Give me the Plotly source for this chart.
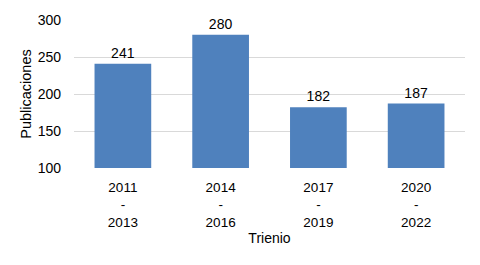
import plotly.graph_objects as go

categories = ["2011<br>-<br>2013", "2014<br>-<br>2016", "2017<br>-<br>2019", "2020<br>-<br>2022"]
values = [241, 280, 182, 187]

fig = go.Figure(go.Bar(
    x=categories, y=values,
    marker=dict(color="#4f81bd", line=dict(width=0)),
    text=[str(v) for v in values], textposition="outside",
    textfont=dict(size=14, color="#000000"),
    cliponaxis=False, width=0.58,
))
fig.update_layout(
    width=480, height=265,
    margin=dict(l=74, r=15, t=15, b=97),
    paper_bgcolor="white", plot_bgcolor="white",
    font=dict(family="Liberation Sans, Arial", size=14, color="#000000"),
    showlegend=False,
    xaxis=dict(title=dict(text="Trienio", standoff=4, font=dict(size=14)), showline=False, ticks="",
               tickfont=dict(size=13.5), ticklabelstandoff=9),
    yaxis=dict(title=dict(text="Publicaciones", standoff=2, font=dict(size=14.5)), range=[100, 300],
               tickvals=[100, 150, 200, 250, 300], showgrid=True,
               gridcolor="#d9d9d9", gridwidth=1, zeroline=False, ticks="",
               tickfont=dict(size=14), ticklabelstandoff=12),
)
fig.write_html("out.html")
